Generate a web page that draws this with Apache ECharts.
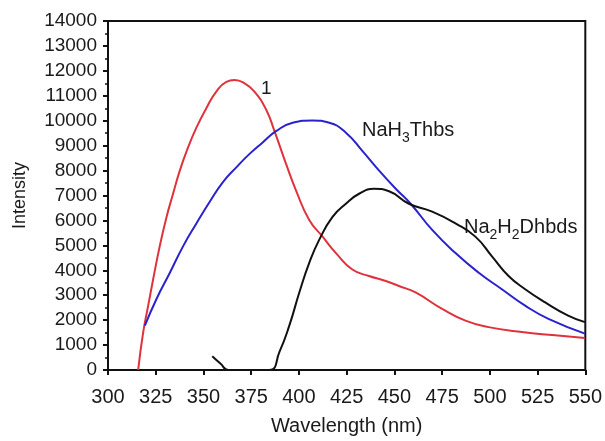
<!DOCTYPE html>
<html>
<head>
<meta charset="utf-8">
<script src="https://cdn.jsdelivr.net/npm/echarts@6/dist/echarts.min.js"></script>
<style>
  html, body { margin: 0; padding: 0; background: #fff; }
  #chart { width: 605px; height: 441px; }
</style>
</head>
<body>
<div id="chart"></div>
<script>
// 波长刻度与强度刻度
const xTicks = [300, 325, 350, 375, 400, 425, 450, 475, 500, 525, 550];
const yTicks = [0, 1000, 2000, 3000, 4000, 5000, 6000, 7000, 8000, 9000, 10000, 11000, 12000, 13000, 14000];

// 曲线 1（红）
const wave1 = [315.8, 318.4, 321, 323.6, 327, 330.6, 334, 337.6, 341.9, 346.3, 351.5, 356.7, 362, 366.3, 371.5, 376.7, 382.8, 387.2, 393.3, 398.5, 405.4, 412.4, 419.4, 428, 436.7, 445.5, 452.4, 461.1, 475, 487.2, 499.4, 516.8, 534.2, 549.8];
const int1 = [0, 1500, 2560, 3620, 4930, 6120, 7050, 8000, 8920, 9720, 10500, 11170, 11560, 11630, 11500, 11170, 10450, 9580, 8260, 7200, 6020, 5350, 4690, 4030, 3770, 3570, 3370, 3110, 2450, 1980, 1720, 1520, 1390, 1280];

// NaH3Thbs（蓝）
const wave2 = [319.3, 325.4, 332.4, 339.3, 346.3, 353.2, 360.2, 367.2, 374, 381, 388, 396.7, 407, 415.9, 424.6, 433.2, 442, 450.7, 458.5, 469.8, 482, 494.2, 506.3, 518.5, 530.7, 549.8];
const int2 = [1780, 2850, 3900, 4960, 5880, 6740, 7540, 8130, 8660, 9130, 9580, 9920, 10010, 9920, 9520, 8790, 8000, 7270, 6670, 5620, 4690, 3900, 3240, 2580, 2050, 1460];

// Na2H2Dhbds（黑）
const wave3 = [354.6, 359, 363, 384.5, 389.8, 395, 400.2, 405.4, 410.6, 417.6, 424.6, 431.5, 439.3, 447.2, 457.6, 469.8, 482, 492.4, 501.1, 509.8, 518.5, 529, 541, 549.8];
const int3 = [550, 250, 0, 0, 730, 1790, 3110, 4300, 5220, 6140, 6670, 7070, 7270, 7170, 6670, 6350, 5880, 5350, 4560, 3770, 3240, 2710, 2180, 1920];

// 曲线标注：[文字, 是否下标]
const label2 = [['NaH', false], ['3', true], ['Thbs', false]];
const label3 = [['Na', false], ['2', true], ['H', false], ['2', true], ['Dhbds', false]];

function pairs(xs, ys) {
  return xs.map((x, i) => [x, ys[i]]);
}

const chart = echarts.init(document.getElementById('chart'));

const FONT = 'Liberation Sans, Arial, sans-serif';
const TEXT = '#1a1a1a';
const BASE_SIZE = 20;
const SUB_SIZE = 14;

function line(name, data, color) {
  return {
    name: name,
    type: 'line',
    data: data,
    smooth: 0.5,
    symbol: 'none',
    clip: true,
    lineStyle: { color: color, width: 2 }
  };
}

// 用 canvas 量宽度，把普通字和下标拼成一组
const measureCtx = document.createElement('canvas').getContext('2d');
function subLabel(parts, left, top) {
  const children = [];
  let x = 0;
  parts.forEach(([txt, sub]) => {
    const size = sub ? SUB_SIZE : BASE_SIZE;
    const font = size + 'px ' + FONT;
    measureCtx.font = font;
    children.push({
      type: 'text',
      x: x,
      y: sub ? 11 : 0,
      style: { text: txt, font: font, fill: TEXT }
    });
    x += measureCtx.measureText(txt).width;
  });
  return { type: 'group', x: left, y: top, children: children };
}

const option = {
  animation: false,
  grid: {
    left: 108, right: 18, top: 21, bottom: 67,
    show: true, borderColor: '#111', borderWidth: 2, backgroundColor: 'transparent'
  },
  xAxis: {
    type: 'value',
    min: 300, max: 550, interval: 25,
    name: 'Wavelength (nm)',
    nameLocation: 'middle',
    nameGap: 46,
    nameTextStyle: { color: TEXT, fontSize: 20, fontFamily: FONT },
    axisLine: { show: true, lineStyle: { color: '#111', width: 2 } },
    axisTick: { show: true, inside: false, length: 5, lineStyle: { color: '#111', width: 2 } },
    axisLabel: { margin: 17, color: TEXT, fontSize: 20, fontFamily: FONT, formatter: v => String(v) },
    splitLine: { show: false }
  },
  yAxis: {
    type: 'value',
    min: 0, max: 14000, interval: 1000,
    name: 'Intensity',
    nameLocation: 'middle',
    nameGap: 79,
    nameTextStyle: { color: TEXT, fontSize: 18, fontFamily: FONT },
    axisLine: { show: true, lineStyle: { color: '#111', width: 2 } },
    axisTick: { show: true, inside: false, length: 5, lineStyle: { color: '#111', width: 2 } },
    minorTick: { show: true, splitNumber: 2, length: 3, lineStyle: { color: '#111', width: 1.5 } },
    axisLabel: { margin: 11, color: TEXT, fontSize: 19, fontFamily: FONT, formatter: v => String(v) },
    splitLine: { show: false }
  },
  series: [
    line('1', pairs(wave1, int1), '#e0323c'),
    line('NaH3Thbs', pairs(wave2, int2), '#2a22cc'),
    line('Na2H2Dhbds', pairs(wave3, int3), '#111111')
  ],
  graphic: [
    {
      type: 'text', left: 261, top: 79,
      style: { text: '1', font: '19px ' + FONT, fill: TEXT }
    },
    subLabel(label2, 362, 120),
    subLabel(label3, 464, 217)
  ]
};

chart.setOption(option);

window.addEventListener('resize', () => {
  chart.resize();
});
</script>
</body>
</html>
